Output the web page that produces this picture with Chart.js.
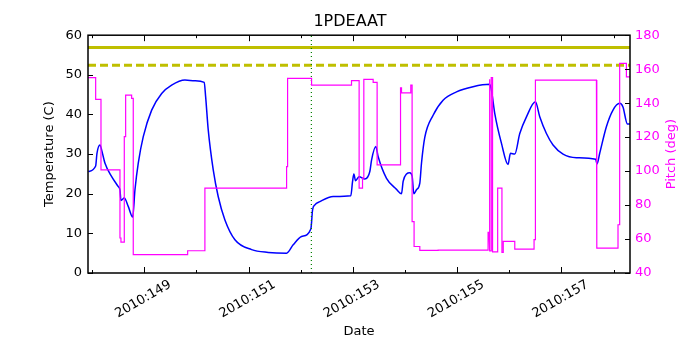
<!DOCTYPE html>
<html>
<head>
<meta charset="UTF-8">
<title>1PDEAAT</title>
<script src="https://cdn.jsdelivr.net/npm/chart.js"></script>
<style>
  html, body { margin: 0; padding: 0; background: #fff; }
  #wrap { width: 700px; height: 350px; }
</style>
</head>
<body>
<div id="wrap"><canvas id="chart" width="700" height="350"></canvas></div>
<script>
// day of year 2010 (decimal) and temperature in C
const tempDays = [147.927, 148.068, 148.093, 148.151, 148.183, 148.247, 148.375, 148.502, 148.534, 148.553,
  148.617, 148.693, 148.778, 148.822, 148.885, 148.981, 149.142, 149.334, 149.525, 149.780,
  149.972, 150.150, 150.177, 150.227, 150.323, 150.418, 150.547, 150.739, 151.059, 151.377,
  151.730, 151.856, 152.017, 152.195, 152.228, 152.272, 152.368, 152.623, 152.962, 152.995,
  153.020, 153.052, 153.121, 153.230, 153.326, 153.359, 153.441, 153.485, 153.646, 153.838,
  153.934, 153.965, 154.030, 154.093, 154.137, 154.170, 154.221, 154.285, 154.317, 154.380,
  154.540, 154.731, 154.988, 155.306, 155.626, 155.659, 155.722, 155.851, 155.977, 156.023,
  156.106, 156.202, 156.330, 156.502, 156.585, 156.713, 156.840, 157.032, 157.288, 157.658,
  157.683, 157.735, 157.863, 157.990, 158.118, 158.181, 158.266, 158.316];
const tempC = [25.6, 27.0, 30.2, 32.3, 31.0, 27.7, 24.3, 21.8, 21.0, 18.3,
  18.9, 16.8, 14.1, 21.0, 27.7, 34.4, 41.1, 45.3, 47.4, 48.7,
  48.5, 48.1, 44.5, 36.1, 26.0, 19.3, 13.4, 8.4, 5.9, 5.2,
  5.0, 7.1, 9.2, 11.1, 15.9, 17.2, 18.0, 19.3, 19.5, 23.1,
  25.0, 23.3, 24.3, 23.7, 25.6, 28.5, 31.9, 29.4, 23.9, 21.1,
  20.0, 23.1, 25.0, 25.3, 24.5, 20.0, 21.0, 22.7, 27.7, 34.2,
  39.8, 43.6, 45.7, 47.0, 47.6, 46.1, 40.3, 32.7, 27.4, 30.2,
  30.0, 35.2, 39.4, 43.2, 39.4, 35.2, 32.3, 30.0, 29.1, 28.7,
  27.5, 30.2, 36.9, 41.1, 42.8, 41.9, 37.6, 37.6];

// pitch in deg, each value holds from its day until the next one
const pitchDays = [147.921, 148.068, 148.170, 148.534, 148.553, 148.617, 148.643, 148.758, 148.789, 149.832,
  150.163, 151.730, 151.749, 152.209, 152.975, 153.121, 153.186, 153.211, 153.390, 153.466,
  153.915, 153.934, 154.112, 154.137, 154.175, 154.285, 154.636, 155.594, 155.613, 155.630,
  155.655, 155.680, 155.778, 155.860, 155.885, 156.106, 156.476, 156.502, 157.672, 157.683,
  158.086, 158.118, 158.247, 158.316];
const pitchDeg = [155.0, 142.2, 100.7, 60.6, 58.2, 120.3, 144.7, 142.8, 50.8, 53.1,
  90.0, 102.6, 154.6, 150.6, 153.2, 90.0, 95.8, 154.0, 152.2, 103.6,
  149.0, 146.0, 150.6, 70.3, 55.6, 53.3, 53.5, 63.9, 154.0, 53.0,
  155.0, 52.4, 90.0, 52.1, 58.6, 54.1, 59.6, 153.6, 125.2, 54.7,
  68.4, 163.4, 155.5, 155.5];

const limitSolid = 56.9;   // C
const limitDashed = 52.4;  // C
const markerDay = 152.205;
const dayTicks = [149, 151, 153, 155, 157];
const dayMinor = [148, 150, 152, 154, 156, 158];
const tempTicks = [0, 10, 20, 30, 40, 50, 60];
const pitchTicks = [40, 60, 80, 100, 120, 140, 160, 180];

const xMin = 147.921, xMax = 158.316;
const FONT = 'DejaVu Sans';

// step line: value i holds until day i+1
const pitchPoints = [];
pitchDays.forEach((d, i) => {
  if (i > 0) pitchPoints.push({ x: d, y: pitchDeg[i - 1] });
  pitchPoints.push({ x: d, y: pitchDeg[i] });
});

// frame, inward ticks and right axis label
const frameTicks = {
  id: 'frameTicks',
  afterDatasetsDraw(chart) {
    const { ctx, chartArea: a, scales } = chart;
    ctx.save();
    ctx.strokeStyle = '#000';
    ctx.lineWidth = 1;
    ctx.beginPath();
    dayTicks.forEach(d => {
      const px = Math.round(scales.x.getPixelForValue(d)) + 0.5;
      ctx.moveTo(px, a.bottom); ctx.lineTo(px, a.bottom - 6);
      ctx.moveTo(px, a.top); ctx.lineTo(px, a.top + 6);
    });
    dayMinor.forEach(d => {
      const px = Math.round(scales.x.getPixelForValue(d)) + 0.5;
      ctx.moveTo(px, a.bottom); ctx.lineTo(px, a.bottom - 3);
      ctx.moveTo(px, a.top); ctx.lineTo(px, a.top + 3);
    });
    tempTicks.forEach(v => {
      const py = Math.round(scales.y.getPixelForValue(v)) + 0.5;
      ctx.moveTo(a.left, py); ctx.lineTo(a.left + 5, py);
    });
    pitchTicks.forEach(v => {
      const py = Math.round(scales.y2.getPixelForValue(v)) + 0.5;
      ctx.moveTo(a.right, py); ctx.lineTo(a.right - 5, py);
    });
    ctx.stroke();
    ctx.lineWidth = 1.5;
    ctx.strokeRect(a.left, a.top, a.right - a.left, a.bottom - a.top);

    ctx.fillStyle = '#ff00ff';
    ctx.font = '13px ' + FONT;
    ctx.textAlign = 'center';
    ctx.textBaseline = 'middle';
    ctx.translate(672, (a.top + a.bottom) / 2);
    ctx.rotate(-Math.PI / 2);
    ctx.fillText('Pitch (deg)', 0, 0);
    ctx.restore();
  }
};

const ctx = document.getElementById('chart').getContext('2d');
new Chart(ctx, {
  type: 'line',
  data: {
    datasets: [
      {
        label: 'Pitch',
        data: pitchPoints,
        yAxisID: 'y2',
        borderColor: '#ff00ff',
        borderWidth: 1.2,
        pointRadius: 0
      },
      {
        label: 'Marker',
        data: [{ x: markerDay, y: 0 }, { x: markerDay, y: 60 }],
        yAxisID: 'y',
        borderColor: '#008000',
        borderWidth: 1.2,
        borderDash: [1, 3],
        pointRadius: 0
      },
      {
        label: 'Limit',
        data: [{ x: xMin, y: limitSolid }, { x: xMax, y: limitSolid }],
        yAxisID: 'y',
        borderColor: '#bfbf00',
        borderWidth: 3,
        pointRadius: 0
      },
      {
        label: 'Limit dashed',
        data: [{ x: xMin, y: limitDashed }, { x: xMax, y: limitDashed }],
        yAxisID: 'y',
        borderColor: '#bfbf00',
        borderWidth: 3,
        borderDash: [8, 4],
        pointRadius: 0
      },
      {
        label: 'Temperature',
        data: tempDays.map((d, i) => ({ x: d, y: tempC[i] })),
        yAxisID: 'y',
        borderColor: '#0000ff',
        borderWidth: 1.5,
        cubicInterpolationMode: 'monotone',
        pointRadius: 0
      }
    ]
  },
  options: {
    responsive: false,
    animation: false,
    layout: { padding: 0 },
    plugins: {
      legend: { display: false },
      tooltip: { enabled: false },
      title: {
        display: true,
        text: '1PDEAAT',
        color: '#000',
        font: { family: FONT, size: 16, weight: 'normal' },
        padding: { top: 12, bottom: 4 }
      }
    },
    scales: {
      x: {
        type: 'linear',
        min: xMin,
        max: xMax,
        afterBuildTicks: s => { s.ticks = dayTicks.map(v => ({ value: v })); },
        afterFit: s => { s.height = 77; },
        grid: { display: false, drawTicks: false },
        border: { display: false },
        ticks: {
          autoSkip: false,
          maxRotation: 30,
          minRotation: 30,
          labelOffset: 26,
          padding: 4,
          color: '#000',
          font: { family: FONT, size: 13 },
          callback: v => '2010:' + v
        },
        title: {
          display: true,
          text: 'Date',
          color: '#000',
          font: { family: FONT, size: 13 },
          padding: { top: 0, bottom: 11 }
        }
      },
      y: {
        position: 'left',
        min: 0,
        max: 60,
        afterBuildTicks: s => { s.ticks = tempTicks.map(v => ({ value: v })); },
        afterFit: s => { s.width = 88; },
        grid: { display: false, drawTicks: false },
        border: { display: false },
        ticks: {
          padding: 6,
          color: '#000',
          font: { family: FONT, size: 13 }
        },
        title: {
          display: true,
          text: 'Temperature (C)',
          color: '#000',
          font: { family: FONT, size: 13 },
          padding: { top: 42, bottom: 0 }
        }
      },
      y2: {
        position: 'right',
        min: 40,
        max: 180,
        afterBuildTicks: s => { s.ticks = pitchTicks.map(v => ({ value: v })); },
        afterFit: s => { s.width = 70; },
        grid: { display: false, drawTicks: false },
        border: { display: false },
        ticks: {
          padding: 5,
          color: '#ff00ff',
          font: { family: FONT, size: 13 }
        }
      }
    }
  },
  plugins: [frameTicks]
});
</script>
</body>
</html>
